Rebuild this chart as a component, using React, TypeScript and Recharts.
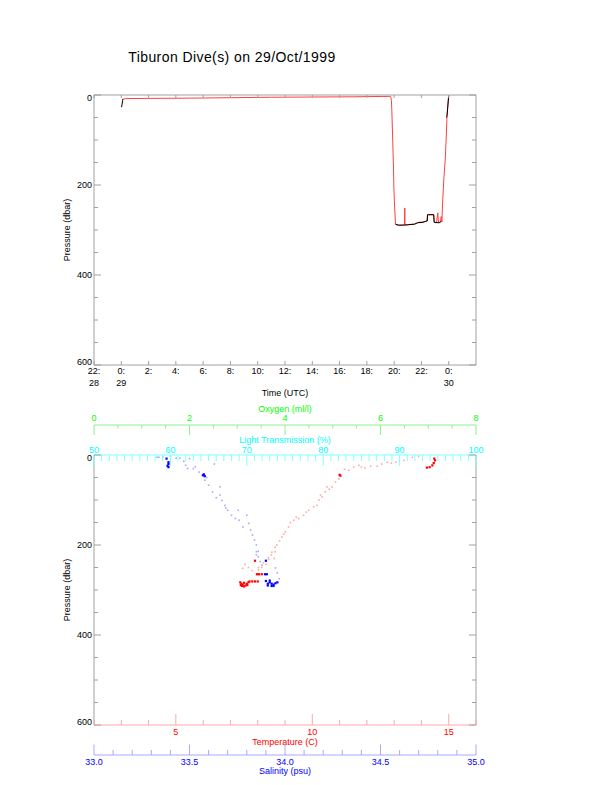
import React from 'react';
import { LineChart, Line, ScatterChart, Scatter, XAxis, YAxis } from 'recharts';

const FONT = "'Liberation Sans', Arial, Helvetica, sans-serif";
const GRAY = '#a0a0a0';

// ---------- Top panel: pressure vs time (hours since 0:00 on 29/Oct) ----------
const traceTime = [0.08, 0.3, 2, 5, 8, 11, 14, 17, 19.7, 19.75, 19.8, 19.83, 19.9, 19.95, 19.98, 20.02, 20.1, 20.4, 20.75, 20.78, 20.8, 21.0, 21.5, 21.8, 22.1, 22.4, 22.45, 22.9, 22.95, 23.1, 23.2, 23.25, 23.4, 23.45, 23.5, 23.55, 23.65, 23.75, 23.82, 23.88, 23.95, 24.0];
const tracePressure = [10, 8, 7.5, 7, 6, 5, 4.5, 4, 3, 4, 12, 33, 104, 160, 205, 238, 288, 290, 289, 251, 289, 288, 287, 283, 282, 280, 266, 266, 283, 284, 262, 283, 282, 270, 282, 240, 183, 140, 93, 45, 15, 0];

const startTime = [0.02, 0.05, 0.1, 0.12];
const startPressure = [27, 22, 12, 9];
const bottomTime = [20.12, 20.3, 20.7, 20.8, 21.5, 21.7, 22.1, 22.3, 22.43, 22.45, 22.9, 22.93, 23.3, 23.45];
const bottomPressure = [287, 289, 289, 289, 287, 284, 283, 281, 280, 266, 266, 283, 284, 281];
const ascentTime = [23.84, 23.88, 23.95, 24.0];
const ascentPressure = [50, 45, 20, 3];

const timeTicks = [-2, 0, 2, 4, 6, 8, 10, 12, 14, 16, 18, 20, 22, 24];
const pressureTicks = [0, 50, 100, 150, 200, 250, 300, 350, 400, 450, 500, 550, 600];
const pressureLabels = [0, 200, 400, 600];

// ---------- Bottom panel: profiles vs pressure ----------
const tempPaleT = [13.67, 13.36, 13.06, 12.75, 12.38, 12.14, 11.93, 11.71, 11.52, 11.34, 11.18, 10.97, 10.85, 10.73, 10.54, 10.48, 10.36, 10.3, 10.18, 10.05, 9.87, 9.68, 9.5, 9.32, 9.13, 9.01, 8.89, 8.8, 8.7, 8.64, 8.61, 8.5, 8.4, 8.3, 8.15, 8.03, 7.79, 7.66, 7.54, 7.45, 8.64, 8.52, 8.39, 8.21, 8.03, 13.9, 12.9, 12.55, 11.8, 10.62, 10.25, 9.78, 9.41, 9.2, 8.95];
const tempPaleP = [5, 12, 16, 16, 25, 25, 29, 23, 27, 34, 32, 53, 60, 71, 71, 82, 93, 89, 112, 115, 123, 134, 141, 145, 160, 171, 182, 191, 200, 215, 230, 222, 232, 243, 250, 255, 257, 250, 243, 252, 205, 216, 228, 240, 250, 3, 18, 20, 27, 76, 100, 127, 138, 150, 176];
const tempDarkT = [14.47, 14.5, 14.45, 14.4, 14.3, 14.2, 11.03, 11.0, 7.9, 7.97, 8.05, 8.15, 7.36, 7.4, 7.45, 7.5, 7.55, 7.6, 7.66, 7.42, 7.5, 7.7, 7.8, 7.9, 8.0, 7.38, 7.62];
const tempDarkP = [8, 12, 18, 23, 27, 28, 46, 44, 235, 265, 265, 265, 283, 286, 288, 284, 290, 286, 283, 291, 292, 281, 281, 281, 281, 289, 289];

const salPaleS = [33.33, 33.34, 33.36, 33.43, 33.45, 33.48, 33.49, 33.52, 33.55, 33.58, 33.6, 33.62, 33.66, 33.66, 33.67, 33.685, 33.7, 33.72, 33.755, 33.74, 33.76, 33.8, 33.81, 33.82, 33.83, 33.84, 33.85, 33.85, 33.86, 33.86, 33.85, 33.87, 33.95, 33.96, 33.5, 33.63, 33.4, 33.47, 33.53, 33.59, 33.64, 33.69, 33.78, 33.88, 33.97];
const salPaleP = [5, 5, 4, 7, 7, 23, 30, 30, 38, 56, 67, 82, 71, 89, 101, 112, 123, 134, 123, 141, 145, 134, 152, 167, 178, 189, 200, 215, 226, 214, 222, 237, 251, 262, 8, 20, 3, 14, 26, 50, 95, 118, 160, 245, 275];
const salDarkS = [33.39, 33.39, 33.385, 33.39, 33.38, 33.57, 33.575, 33.58, 33.9, 33.895, 33.905, 33.9, 33.92, 33.93, 33.94, 33.95, 33.91, 33.93, 33.96, 33.92, 33.94, 33.91];
const salDarkP = [16, 20, 24, 27, 8, 45, 43, 47, 235, 265, 265, 280, 283, 286, 288, 285, 290, 291, 283, 279, 291, 286];

const ltTicks = Array.from({ length: 51 }, (_, i) => 50 + i);
const ltLabels = [50, 60, 70, 80, 90, 100];
const oxTicks = Array.from({ length: 17 }, (_, i) => i * 0.5);
const oxLabels = [0, 2, 4, 6, 8];
const tempTicks = Array.from({ length: 15 }, (_, i) => 2 + i);
const tempLabels = [5, 10, 15];
const salTicks = Array.from({ length: 21 }, (_, i) => 33 + i * 0.1);
const salLabels = [33.0, 33.5, 34.0, 34.5, 35.0];

const zipLine = (t: number[], p: number[]) => t.map((v, i) => ({ t: v, p: p[i] }));
const zipPts = (x: number[], y: number[]) => x.map((v, i) => ({ x: v, y: y[i] }));

const traceData = zipLine(traceTime, tracePressure);
const startData = zipLine(startTime, startPressure);
const bottomData = zipLine(bottomTime, bottomPressure);
const ascentData = zipLine(ascentTime, ascentPressure);

const tempPale = zipPts(tempPaleT, tempPaleP);
const tempDark = zipPts(tempDarkT, tempDarkP);
const salPale = zipPts(salPaleS, salPaleP);
const salDark = zipPts(salDarkS, salDarkP);

const near = (a: number, list: number[]) => list.some((b) => Math.abs(a - b) < 1e-6);

const txt = (x: number, y: number, s: string, fill: string, anchor: string = 'middle') => (
  <text x={x} y={y} textAnchor={anchor as any} fontSize={9} fontFamily={FONT} fill={fill}>{s}</text>
);

// ---------- tick renderers ----------
const timeTick = (props: any) => {
  const { x, y, payload } = props;
  const v = payload.value;
  const h = ((v % 24) + 24) % 24;
  const day = v === -2 ? '28' : v === 0 ? '29' : v === 24 ? '30' : null;
  return (
    <g>
      <line x1={x} x2={x} y1={y} y2={y - 4} stroke={GRAY} />
      {txt(x, y + 9.3, h + ':', '#000')}
      {day && txt(x, y + 21, day, '#000')}
    </g>
  );
};

const topTimeTick = (props: any) => {
  const { x, y } = props;
  return <line x1={x} x2={x} y1={y} y2={y + 3} stroke={GRAY} />;
};

const leftTick = (props: any) => {
  const { x, y, payload } = props;
  const v = payload.value;
  const major = near(v, pressureLabels);
  const len = major ? 7 : 4;
  const dy = v === 0 ? 3 : v === 600 ? -3 : 0;
  return (
    <g>
      <line x1={x} x2={x + len} y1={y} y2={y} stroke={GRAY} />
      {major && txt(x - 2, y + 3.2 + dy, String(v), '#000', 'end')}
    </g>
  );
};

const rightTick = (props: any) => {
  const { x, y, payload } = props;
  const major = near(payload.value, pressureLabels);
  const len = major ? 7 : 4;
  return <line x1={x} x2={x - len} y1={y} y2={y} stroke={GRAY} />;
};

const makeXTick = (o: {
  labels: number[];
  dir: number;
  majorLen: number;
  minorLen: number;
  tickColor: string;
  labelColor: string;
  labelDy: number;
  fmt: (v: number) => string;
}) => (props: any) => {
  const { x, y, payload } = props;
  const v = payload.value;
  const major = near(v, o.labels);
  const len = major ? o.majorLen : o.minorLen;
  return (
    <g>
      <line x1={x} x2={x} y1={y} y2={y + o.dir * len} stroke={o.tickColor} />
      {major && txt(x, y + o.labelDy, o.fmt(v), o.labelColor)}
    </g>
  );
};

const ltTick = makeXTick({ labels: ltLabels, dir: 1, majorLen: 11, minorLen: 6, tickColor: '#80ffff', labelColor: '#00ffff', labelDy: -2.5, fmt: (v) => String(v) });
const oxTick = makeXTick({ labels: oxLabels, dir: 1, majorLen: 10, minorLen: 3.5, tickColor: '#90f090', labelColor: '#00ff00', labelDy: -4, fmt: (v) => String(v) });
const tempTick = makeXTick({ labels: tempLabels, dir: -1, majorLen: 11, minorLen: 5, tickColor: '#ffa8a8', labelColor: '#ff0000', labelDy: 10, fmt: (v) => String(v) });
const salTick = makeXTick({ labels: salLabels, dir: -1, majorLen: 10.5, minorLen: 5, tickColor: '#a8a8ff', labelColor: '#0000ff', labelDy: 10, fmt: (v) => v.toFixed(1) });

const dotShape = (size: number) => (props: any) => {
  const { cx, cy, fill } = props;
  if (cx == null || cy == null) return <g />;
  return <rect x={cx - size / 2} y={cy - size / 2} width={size} height={size} fill={fill} />;
};

const axisCommon = {
  type: 'number' as const,
  allowDataOverflow: true,
  interval: 0 as const,
  tickSize: 0,
  tickMargin: 0,
  tickLine: false,
};

export default function App() {
  return (
    <div style={{ position: 'absolute', left: 0, top: 0, width: 612, height: 785, background: '#fff' }}>
      <div style={{ position: 'absolute', left: 0, top: 0 }}>
        <LineChart width={612} height={400} margin={{ top: 90, right: 126, bottom: 0, left: 64 }}>
          <XAxis xAxisId="b" orientation="bottom" dataKey="t" domain={[-2, 26]} ticks={timeTicks} height={35} axisLine={{ stroke: GRAY }} tick={timeTick} {...axisCommon} />
          <XAxis xAxisId="t" orientation="top" dataKey="t" domain={[-2, 26]} ticks={timeTicks} height={5} axisLine={{ stroke: GRAY }} tick={topTimeTick} {...axisCommon} />
          <YAxis yAxisId="l" orientation="left" dataKey="p" domain={[0, 600]} reversed ticks={pressureTicks} width={30} axisLine={{ stroke: GRAY }} tick={leftTick} {...axisCommon} />
          <YAxis yAxisId="r" orientation="right" dataKey="p" domain={[0, 600]} reversed ticks={pressureTicks} width={10} axisLine={{ stroke: GRAY }} tick={rightTick} {...axisCommon} />
          <Line xAxisId="b" yAxisId="l" data={traceData} dataKey="p" type="linear" stroke="#ff4040" strokeWidth={1} dot={false} isAnimationActive={false} />
          <Line xAxisId="b" yAxisId="l" data={startData} dataKey="p" type="linear" stroke="#000" strokeWidth={1} dot={false} isAnimationActive={false} />
          <Line xAxisId="b" yAxisId="l" data={bottomData} dataKey="p" type="linear" stroke="#000" strokeWidth={1} dot={false} isAnimationActive={false} />
          <Line xAxisId="b" yAxisId="l" data={ascentData} dataKey="p" type="linear" stroke="#000" strokeWidth={1} dot={false} isAnimationActive={false} />
        </LineChart>
      </div>
      <div style={{ position: 'absolute', left: 0, top: 0 }}>
        <ScatterChart width={612} height={785} margin={{ top: 395, right: 126, bottom: 0, left: 64 }}>
          <XAxis xAxisId="a_lt" orientation="top" dataKey="x" domain={[50, 100]} ticks={ltTicks} height={30} axisLine={{ stroke: '#80ffff' }} tick={ltTick} {...axisCommon} />
          <XAxis xAxisId="b_ox" orientation="top" dataKey="x" domain={[0, 8]} ticks={oxTicks} height={30} axisLine={{ stroke: '#90f090' }} tick={oxTick} {...axisCommon} />
          <XAxis xAxisId="a_temp" orientation="bottom" dataKey="x" domain={[2, 16]} ticks={tempTicks} height={30} axisLine={{ stroke: '#ffa8a8' }} tick={tempTick} {...axisCommon} />
          <XAxis xAxisId="b_sal" orientation="bottom" dataKey="x" domain={[33, 35]} ticks={salTicks} height={30} axisLine={{ stroke: '#a8a8ff' }} tick={salTick} {...axisCommon} />
          <YAxis yAxisId="l" orientation="left" dataKey="y" domain={[0, 600]} reversed ticks={pressureTicks} width={30} axisLine={{ stroke: GRAY }} tick={leftTick} {...axisCommon} />
          <YAxis yAxisId="r" orientation="right" dataKey="y" domain={[0, 600]} reversed ticks={pressureTicks} width={10} axisLine={{ stroke: GRAY }} tick={rightTick} {...axisCommon} />
          <Scatter xAxisId="a_temp" yAxisId="l" data={tempPale} fill="#ffa8a8" shape={dotShape(1.6)} isAnimationActive={false} />
          <Scatter xAxisId="b_sal" yAxisId="l" data={salPale} fill="#a8a8ff" shape={dotShape(1.6)} isAnimationActive={false} />
          <Scatter xAxisId="a_temp" yAxisId="l" data={tempDark} fill="#ff0000" shape={dotShape(2.2)} isAnimationActive={false} />
          <Scatter xAxisId="b_sal" yAxisId="l" data={salDark} fill="#0000ff" shape={dotShape(2.2)} isAnimationActive={false} />
        </ScatterChart>
      </div>
      <svg width={612} height={785} style={{ position: 'absolute', left: 0, top: 0, pointerEvents: 'none' }}>
        <text x={231.7} y={62} textAnchor="middle" fontSize={14} fontFamily={FONT} fill="#000" textLength={207} lengthAdjust="spacing">Tiburon Dive(s) on 29/Oct/1999</text>
        <text x={70} y={230} textAnchor="middle" fontSize={9} fontFamily={FONT} fill="#000" transform="rotate(-90 70 230)">Pressure (dbar)</text>
        {txt(285, 396, 'Time (UTC)', '#000')}
        {txt(285, 411.5, 'Oxygen (ml/l)', '#00ff00')}
        {txt(285, 443, 'Light Transmission (%)', '#00ffff')}
        <text x={70} y={590} textAnchor="middle" fontSize={9} fontFamily={FONT} fill="#000" transform="rotate(-90 70 590)">Pressure (dbar)</text>
        {txt(285, 744.8, 'Temperature (C)', '#ff0000')}
        {txt(285, 774, 'Salinity (psu)', '#0000ff')}
      </svg>
    </div>
  );
}
